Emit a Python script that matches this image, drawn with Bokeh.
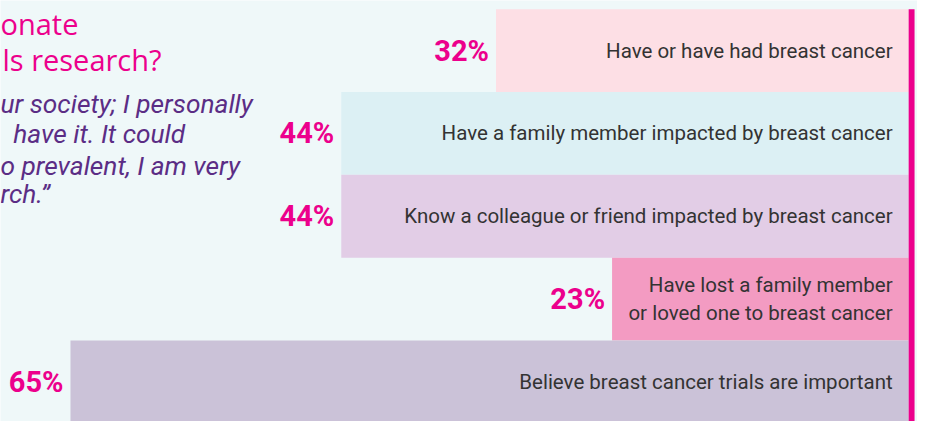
from bokeh.plotting import figure
from bokeh.models import Range1d, ColumnDataSource
from bokeh.core.properties import value
from bokeh.embed import file_html
from bokeh.resources import INLINE

# ---- data ----
labels = [
    "Have or have had breast cancer",
    "Have a family member impacted by breast cancer",
    "Know a colleague or friend impacted by breast cancer",
    "Have lost a family member\nor loved one to breast cancer",
    "Believe breast cancer trials are important",
]
percents = [32, 44, 44, 23, 65]
bar_colors = ["#fddfe5", "#dcf0f4", "#e2cde6", "#f39bc2", "#cbc2d8"]
title_lines = ["onate", "ls research?"]
quote_lines = ["ur society; I personally", "have it. It could", "o prevalent, I am very", "rch.\u201d"]

PINK = "#ec008c"
BG = "#eff8f9"
PURPLE = "#5b2d85"
DARK = "#333333"

# reference-pixel helpers (0% sits at x=924, 13.12 px per percent; bars 86px tall from y=9)
def dx(px):
    return (924 - px) / 13.12

def dy(py):
    return (py - 9) / 86.0

W, H = 917, 421
p = figure(width=W, height=H, output_backend="svg", toolbar_location=None,
           x_range=Range1d(dx(0), dx(933)), y_range=Range1d(dy(437), dy(0)),
           background_fill_color=BG, border_fill_color=BG, outline_line_color=None,
           min_border=0, min_border_left=0, min_border_right=0, min_border_top=0, min_border_bottom=0)
p.axis.visible = False
p.grid.visible = False

ys = [i + 0.5 for i in range(len(percents))]
src = ColumnDataSource(dict(y=ys, pct=percents, lab=labels, color=bar_colors,
                            ptxt=[f"{v}%" for v in percents], zero=[0] * len(percents)))

p.hbar(y="y", left="pct", right="zero", height=1, fill_color="color", line_color=None, source=src)

# pink right rule
p.quad(left=[0], right=[dx(930)], bottom=[dy(440)], top=[dy(9)], fill_color=PINK, line_color=None)

# percent labels
p.text(x="pct", y="y", text="ptxt", source=src, x_offset=-7, text_align="right", text_baseline="middle",
       text_font=value("Roboto"), text_font_style="bold", text_font_size="29px", text_color=PINK)

# category labels
p.text(x="zero", y="y", text="lab", source=src, x_offset=-16, text_align="right", text_baseline="middle",
       text_font=value("Roboto"), text_font_size="20.5px", text_color=DARK, text_line_height=1.15)

# title fragments
p.text(x=[dx(0), dx(2)], y=[dy(24), dy(61)], text=title_lines, text_align="left", text_baseline="middle",
       text_font=value("Open Sans"), text_font_size="29px", text_color=PINK)

# quote fragments
p.text(x=[dx(0), dx(13), dx(0), dx(0)], y=[dy(107), dy(139), dy(172), dy(201)], text=quote_lines,
       text_align="left", text_baseline="middle",
       text_font=value("Roboto"), text_font_style="italic", text_font_size="26.3px", text_color=PURPLE)

open("out.html", "w").write(file_html(p, INLINE))
